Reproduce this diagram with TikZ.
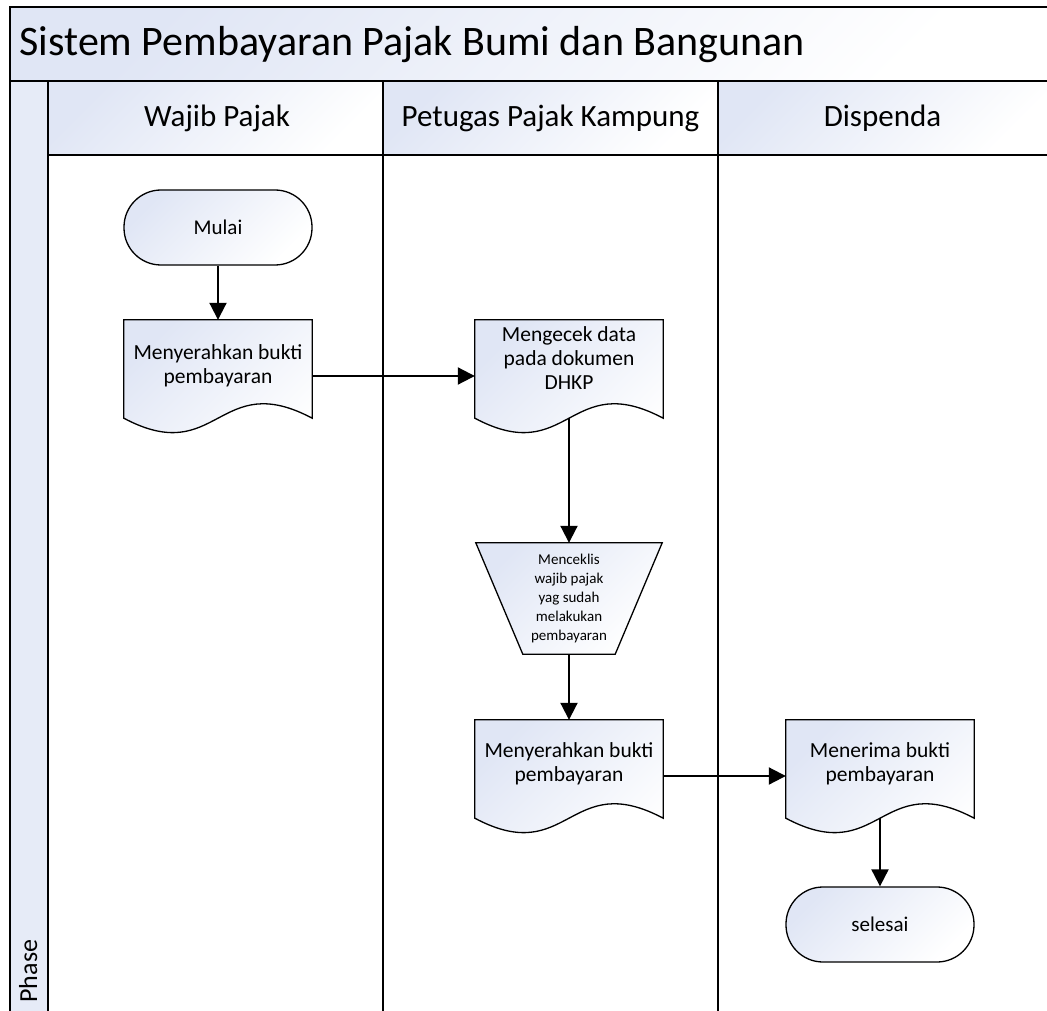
\documentclass[tikz,border=0pt]{standalone}
\usepackage{fontspec}
\setmainfont{Carlito}
\usetikzlibrary{arrows.meta,calc}
\definecolor{lb}{RGB}{224,230,245}
\tikzset{
  grad/.style={top color=lb, bottom color=white, shading angle=45},
  frame/.style={line width=2pt, draw=black},
  shp/.style={line width=1.3pt, draw=black},
  conn/.style={line width=2pt, -{Triangle[length=17pt,width=17pt]}},
  box/.style={rectangle, minimum width=188pt, minimum height=112pt, inner sep=0pt, draw=none},
  trapbox/.style={rectangle, minimum width=186pt, minimum height=111pt, inner sep=0pt, draw=none},
  term/.style={rectangle, rounded corners=37pt, minimum width=188pt, minimum height=75pt, shp, grad, font=\fontsize{21}{25}\selectfont},
  txt/.style={align=center, font=\fontsize{21.5}{24}\selectfont},
  smalltxt/.style={align=center, font=\fontsize{15}{19}\selectfont},
  head/.style={font=\fontsize{31}{35}\selectfont},
}
\newcommand\docpath[1]{%
  \draw[shp,grad] (#1.north west) -- (#1.north east) -- ($(#1.south east)+(0,-14)$)
    .. controls ($(#1.south)+(0,-64)$) and ($(#1.south)+(0,36)$) .. ($(#1.south west)+(0,-14)$) -- cycle;}
\begin{document}
\begin{tikzpicture}[x=1pt,y=-1pt]
\useasboundingbox (0,0) rectangle (1047,1011);
\clip (0,0) rectangle (1047,1011);
% backgrounds
\fill[grad] (10,7) rectangle (1047,81);
\fill[lb!80] (10,81) rectangle (48,1011);
\fill[grad] (48,81) rectangle (383,155);
\fill[grad] (383,81) rectangle (718,155);
\fill[grad] (718,81) rectangle (1047,155);
% frame lines
\draw[frame] (10,1012) -- (10,7) -- (1048,7);
\draw[frame] (10,81) -- (1048,81);
\draw[frame] (48,155) -- (1048,155);
\draw[frame] (48,81) -- (48,1012);
\draw[frame] (383,81) -- (383,1012);
\draw[frame] (718,81) -- (718,1012);
% texts of the frame
\node[anchor=west, font=\fontsize{42}{46}\selectfont] (title) at (16,45) {Sistem Pembayaran Pajak Bumi dan Bangunan};
\node[head] (h1) at (217,118) {Wajib Pajak};
\node[head] (h2) at (550.5,118) {Petugas Pajak Kampung};
\node[head] (h3) at (882.5,118) {Dispenda};
\node[rotate=90, anchor=base west, font=\fontsize{26}{30}\selectfont] (phase) at (37,1006) {Phase};
% shapes
\node[term] (mulai) at (218,227.5) {Mulai};
\node[box] (doc1) at (218,376) {};
\docpath{doc1}
\node[txt] (doc1t) at ($(doc1.center)+(0,-10)$) {Menyerahkan bukti\\pembayaran};
\node[box] (doc2) at (569,376) {};
\docpath{doc2}
\node[txt] (doc2t) at ($(doc2.center)+(0,-18)$) {Mengecek data\\pada dokumen\\DHKP};
\node[trapbox] (trap) at (569,598.5) {};
\draw[shp,grad] (trap.north west) -- (trap.north east) -- ($(trap.south east)+(-47,0)$) -- ($(trap.south west)+(47,0)$) -- cycle;
\node[smalltxt] (trapt) at (trap.center) {Menceklis\\wajib pajak\\yag sudah\\melakukan\\pembayaran};
\node[box] (doc3) at (569,776) {};
\docpath{doc3}
\node[txt] (doc3t) at ($(doc3.center)+(0,-12)$) {Menyerahkan bukti\\pembayaran};
\node[box] (doc4) at (880,776) {};
\docpath{doc4}
\node[txt] (doc4t) at ($(doc4.center)+(0,-12)$) {Menerima bukti\\pembayaran};
\node[term] (selesai) at (880,924.5) {selesai};
% connectors
\coordinate (doc2b) at ($(doc2.south)+(0,-14)$);
\coordinate (doc4b) at ($(doc4.south)+(0,-14)$);
\draw[conn] (mulai.south) -- (doc1.north);
\draw[conn] (doc1.east) -- (doc2.west);
\draw[conn] (doc2b) -- (trap.north);
\draw[conn] (trap.south) -- (doc3.north);
\draw[conn] (doc3.east) -- (doc4.west);
\draw[conn] (doc4b) -- (selesai.north);
\end{tikzpicture}
\end{document}
